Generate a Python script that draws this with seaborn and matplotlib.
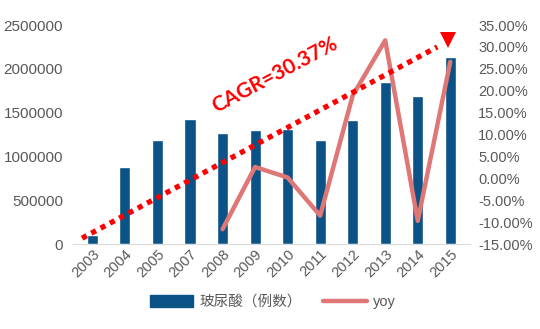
import matplotlib
matplotlib.use("Agg")
import matplotlib.pyplot as plt
import seaborn as sns
import pandas as pd
from matplotlib.ticker import FuncFormatter, MultipleLocator
from matplotlib.lines import Line2D
from matplotlib.patches import Patch

years = ["2003", "2004", "2005", "2007", "2008", "2009", "2010",
         "2011", "2012", "2013", "2014", "2015"]
cases = [105000, 885000, 1190000, 1432000, 1269000, 1303000, 1315000,
         1189000, 1417000, 1850000, 1691000, 2135000]
yoy_years = ["2008", "2009", "2010", "2011", "2012", "2013", "2014", "2015"]
yoy = [-11.6, 2.6, 0.2, -8.5, 18.9, 31.5, -9.7, 26.6]
bar_label = "玻尿酸（例数）"
line_label = "yoy"
cagr_text = "CAGR=30.37%"

sns.set_style("white")
plt.rcParams["font.family"] = ["Liberation Sans", "Noto Sans CJK SC", "DejaVu Sans"]

BAR = "#0B5387"
LINE = "#E07777"
GRAY = "#595959"
RED = "#FF0000"

fig = plt.figure(figsize=(5.4, 3.29), dpi=100)
ax = fig.add_axes([0.135, 0.258, 0.735, 0.666])

df = pd.DataFrame({"year": years, "cases": cases})
sns.barplot(data=df, x="year", y="cases", ax=ax, color=BAR, width=0.34,
            saturation=1, order=years)
ax.set_ylim(0, 2500000)
ax.yaxis.set_major_locator(MultipleLocator(500000))
ax.yaxis.set_major_formatter(FuncFormatter(lambda v, p: f"{int(round(v))}"))
ax.set_xlim(-0.6, 11.6)
ax.set_xlabel("")
ax.set_ylabel("")
for s in ["top", "right", "left"]:
    ax.spines[s].set_visible(False)
ax.spines["bottom"].set_color("#D9D9D9")
ax.tick_params(axis="y", labelsize=11, colors=GRAY, length=0, pad=7)
ax.tick_params(axis="x", labelsize=10.5, colors=GRAY, length=0, pad=2)
for lbl in ax.get_xticklabels():
    lbl.set_rotation(45)
    lbl.set_ha("right")
    lbl.set_rotation_mode("anchor")

ax2 = ax.twinx()
ldf = pd.DataFrame({"pos": [years.index(y) for y in yoy_years], "yoy": yoy})
sns.lineplot(data=ldf, x="pos", y="yoy", ax=ax2, color=LINE, linewidth=3.2)
ax2.set_ylim(-15, 35)
ax2.yaxis.set_major_locator(MultipleLocator(5))
ax2.yaxis.set_major_formatter(FuncFormatter(lambda v, p: f"{v:.2f}%"))
ax2.set_ylabel("")
ax2.set_xlabel("")
for s in ["top", "right", "left", "bottom"]:
    ax2.spines[s].set_visible(False)
ax2.tick_params(axis="y", labelsize=10.5, colors=GRAY, length=0, pad=6)
ax2.set_xlim(-0.6, 11.6)

# decorative trend arrow (axes-fraction annotation)
ax2.plot([0.023, 0.918], [0.027, 0.90], transform=ax2.transAxes, color=RED,
         lw=3.8, linestyle=(0, (1, 1)), solid_capstyle="butt",
         dash_capstyle="butt", clip_on=False, zorder=5)
ax2.plot([0.945], [0.93], transform=ax2.transAxes, marker="v", markersize=12,
         color=RED, markeredgewidth=0, clip_on=False, zorder=5)
ax2.text(0.51, 0.772, cagr_text, transform=ax2.transAxes, color=RED,
         fontsize=15, fontweight="bold", rotation=28, ha="center", va="center",
         family=["Lato", "DejaVu Sans"], zorder=6)

handles = [Patch(facecolor=BAR, edgecolor=BAR),
           Line2D([0], [0], color=LINE, linewidth=3.2)]
fig.legend(handles, [bar_label, line_label], loc="center",
           bbox_to_anchor=(0.505, 0.082), ncol=2, frameon=False, fontsize=10.5,
           handlelength=3, handleheight=0.8, columnspacing=1.5,
           labelcolor=GRAY, handletextpad=0.4)

fig.savefig("out.png", dpi=100)
